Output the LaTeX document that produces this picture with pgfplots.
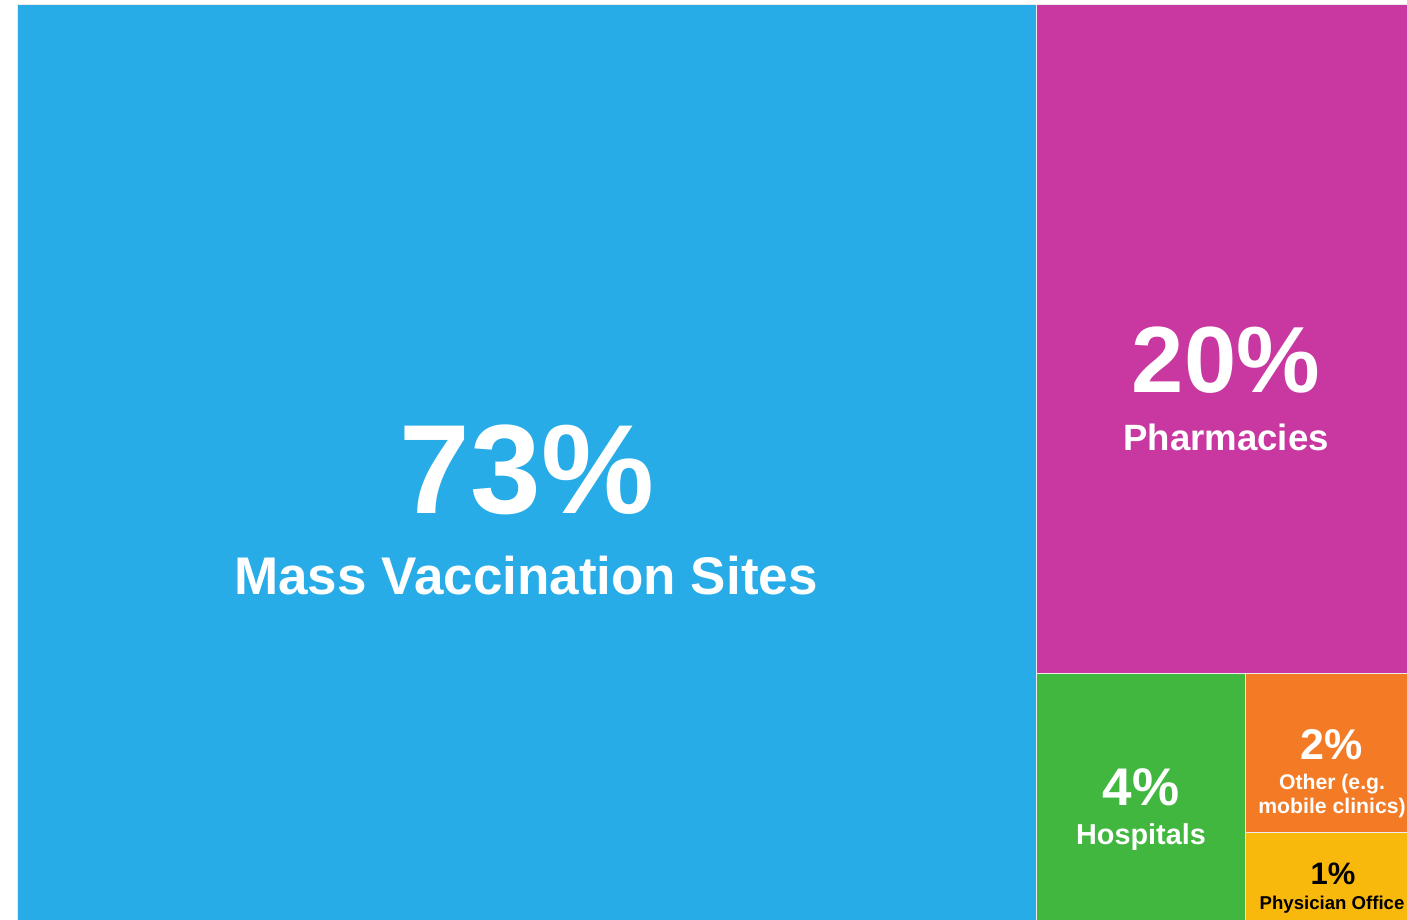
\documentclass[border=0pt]{standalone}
\usepackage{fontspec}
\setmainfont{Liberation Sans}
\usepackage{pgfplots}
\pgfplotsset{compat=1.18}

\definecolor{cblue}{RGB}{40,172,232}
\definecolor{cmag}{RGB}{201,55,160}
\definecolor{cgreen}{RGB}{66,183,64}
\definecolor{corange}{RGB}{243,123,38}
\definecolor{cyellow}{RGB}{249,184,12}

\newcommand{\fs}[1]{\fontsize{#1}{#1}\selectfont\bfseries}

\begin{document}
\begin{tikzpicture}[lbl/.style={anchor=base, inner sep=0pt, text=white}]
\begin{axis}[
  x=0.5pt, y=0.5pt,
  xmin=0, xmax=1407, ymin=0, ymax=920,
  y dir=reverse,
  hide axis,
  scale only axis,
  clip=true,
  every axis plot/.append style={line width=0.5pt, draw=white!85!gray},
]
% background (fixes the picture size)
\addplot[fill=white, draw=none] coordinates {(0,0) (1407,0) (1407,920) (0,920) (0,0)};

% treemap tiles, pixel layout: 73 / 20 / 4 / 2 / 1 percent
\addplot[fill=cblue]   coordinates {(17,5) (1036,5) (1036,921) (17,921) (17,5)};
\addplot[fill=cmag]    coordinates {(1036,5) (1408,5) (1408,673) (1036,673) (1036,5)};
\addplot[fill=cgreen]  coordinates {(1036,673) (1245,673) (1245,921) (1036,921) (1036,673)};
\addplot[fill=corange] coordinates {(1245,673) (1408,673) (1408,832) (1245,832) (1245,673)};
\addplot[fill=cyellow] coordinates {(1245,832) (1408,832) (1408,921) (1245,921) (1245,832)};

% labels
\node[lbl, font=\fs{63.5}] at (axis cs:527,513) {73\%};
\node[lbl, font=\fs{26.5}] at (axis cs:526,594) {Mass Vaccination Sites};

\node[lbl, font=\fs{47}]   at (axis cs:1226,392) {20\%};
\node[lbl, font=\fs{18.3}] at (axis cs:1226,450) {Pharmacies};

\node[lbl, font=\fs{26.5}] at (axis cs:1141,805) {4\%};
\node[lbl, font=\fs{14.4}] at (axis cs:1141,844) {Hospitals};

\node[lbl, font=\fs{21.5}] at (axis cs:1332,759) {2\%};
\node[lbl, font=\fs{10.6}] at (axis cs:1332,789) {Other (e.g.};
\node[lbl, font=\fs{10.6}] at (axis cs:1332,813) {mobile clinics)};

\node[lbl, font=\fs{15.5}, text=black] at (axis cs:1333,884) {1\%};
\node[lbl, font=\fs{9.3}, text=black]  at (axis cs:1332,909) {Physician Office};
\end{axis}
\end{tikzpicture}
\end{document}
